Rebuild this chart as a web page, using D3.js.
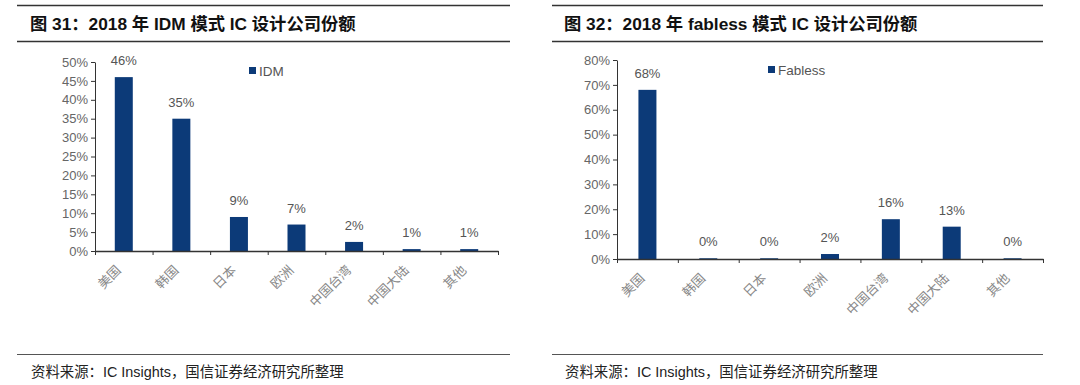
<!DOCTYPE html>
<html>
<head>
<meta charset="utf-8">
<script src="https://cdn.jsdelivr.net/npm/d3@7"></script>
<style>
  body { margin: 0; background: #fff; }
  svg { display: block; }
</style>
</head>
<body>
<div id="container"></div>
<script>
// data
const regions = ["美国", "韩国", "日本", "欧洲", "中国台湾", "中国大陆", "其他"]
const idmValues = [0.46, 0.35, 0.09, 0.07, 0.024, 0.005, 0.005]
const idmLabels = ["46%", "35%", "9%", "7%", "2%", "1%", "1%"]
const fablessValues = [0.68, 0.003, 0.003, 0.02, 0.16, 0.13, 0.003]
const fablessLabels = ["68%", "0%", "0%", "2%", "16%", "13%", "0%"]
const idmTicks = [0, 0.05, 0.1, 0.15, 0.2, 0.25, 0.3, 0.35, 0.4, 0.45, 0.5]
const fablessTicks = [0, 0.1, 0.2, 0.3, 0.4, 0.5, 0.6, 0.7, 0.8]

const barColor = "#0c3a78"
const latin = "'Liberation Sans', Arial, 'Noto Sans CJK SC', sans-serif"

let svg = d3.select("#container")
    .append("svg")
    .attr("width", 1080)
    .attr("height", 385)

function drawPanel(opt) {
    let g = svg.append("g")

    // header rules and title
    g.append("line")
        .attr("x1", opt.left).attr("x2", opt.right)
        .attr("y1", 5.5).attr("y2", 5.5)
        .attr("stroke", "#333").attr("stroke-width", 1.5)
    g.append("line")
        .attr("x1", opt.left).attr("x2", opt.right)
        .attr("y1", 41.5).attr("y2", 41.5)
        .attr("stroke", "#333").attr("stroke-width", 1.5)
    g.append("text")
        .attr("x", opt.titleX).attr("y", 30)
        .attr("font-family", latin)
        .attr("font-weight", "bold")
        .attr("font-size", 17.3)
        .attr("fill", "#111")
        .text(opt.title)

    let x = d3.scaleBand()
        .domain(d3.range(regions.length))
        .range([opt.x0, opt.x1])
        .paddingInner(0)

    let y = d3.scaleLinear()
        .domain([0, opt.max])
        .range([opt.y0, opt.yTop])

    let barW = 18

    g.append("g")
        .attr("fill", barColor)
        .selectAll("rect")
        .data(opt.values)
        .join("rect")
            .attr("x", (d, i) => x(i) + x.bandwidth() / 2 - barW / 2)
            .attr("y", d => y(d))
            .attr("width", barW)
            .attr("height", d => y(0) - y(d))

    // value labels
    g.append("g")
        .selectAll("text")
        .data(opt.values)
        .join("text")
            .attr("x", (d, i) => x(i) + x.bandwidth() / 2)
            .attr("y", d => y(d) - 12)
            .attr("text-anchor", "middle")
            .attr("font-family", latin)
            .attr("font-size", 13)
            .attr("fill", "#555")
            .text((d, i) => opt.labels[i])

    // y axis
    let yAxis = g.append("g")
        .attr("transform", `translate(${opt.x0},0)`)
        .call(d3.axisLeft(y).tickValues(opt.ticks).tickFormat(d3.format(".0%")).tickSize(4).tickSizeOuter(0))
    yAxis.select(".domain").attr("stroke", "#333")
    yAxis.selectAll(".tick line").attr("stroke", "#333")
    yAxis.selectAll("text")
        .attr("font-family", latin)
        .attr("font-size", 13)
        .attr("fill", "#666")
        .attr("x", -7)

    // x axis with ticks between categories
    let edge = d3.scaleLinear().domain([0, regions.length]).range([opt.x0, opt.x1])
    let xAxis = g.append("g")
        .attr("transform", `translate(0,${opt.y0})`)
        .call(d3.axisBottom(edge).ticks(regions.length).tickFormat("").tickSize(4).tickSizeOuter(0))
    xAxis.select(".domain").attr("stroke", "#333").attr("stroke-width", 1.5)
    xAxis.selectAll(".tick line").attr("stroke", "#333")

    // rotated category labels
    g.append("g")
        .selectAll("text")
        .data(regions)
        .join("text")
            .attr("transform", (d, i) => `translate(${x(i) + x.bandwidth() / 2 - 2},${opt.y0 + 20}) rotate(-45)`)
            .attr("text-anchor", "end")
            .attr("font-family", "'Noto Sans CJK SC', sans-serif")
            .attr("font-size", 13)
            .attr("fill", "#888")
            .text(d => d)

    // legend
    g.append("rect")
        .attr("x", opt.legendX).attr("y", opt.legendY - 4)
        .attr("width", 7).attr("height", 7)
        .attr("fill", barColor)
    g.append("text")
        .attr("x", opt.legendX + 10).attr("y", opt.legendY + 5)
        .attr("font-family", latin)
        .attr("font-size", 13.5)
        .attr("fill", "#555")
        .text(opt.legend)

    // footer
    g.append("line")
        .attr("x1", opt.left).attr("x2", opt.right)
        .attr("y1", 354.5).attr("y2", 354.5)
        .attr("stroke", "#555").attr("stroke-width", 1)
    g.append("text")
        .attr("x", opt.titleX + 1).attr("y", 377)
        .attr("font-family", latin)
        .attr("font-size", 14.4)
        .attr("fill", "#222")
        .text("资料来源：IC Insights，国信证券经济研究所整理")
}

drawPanel({
    left: 17, right: 510, titleX: 30,
    title: "图 31：2018 年 IDM 模式 IC 设计公司份额",
    x0: 95, x1: 498, y0: 251, yTop: 62, max: 0.5,
    values: idmValues, labels: idmLabels, ticks: idmTicks,
    legend: "IDM", legendX: 249, legendY: 71
})

drawPanel({
    left: 552, right: 1043, titleX: 564,
    title: "图 32：2018 年 fabless 模式 IC 设计公司份额",
    x0: 617, x1: 1043, y0: 259, yTop: 60, max: 0.8,
    values: fablessValues, labels: fablessLabels, ticks: fablessTicks,
    legend: "Fabless", legendX: 768, legendY: 70
})
</script>
</body>
</html>
